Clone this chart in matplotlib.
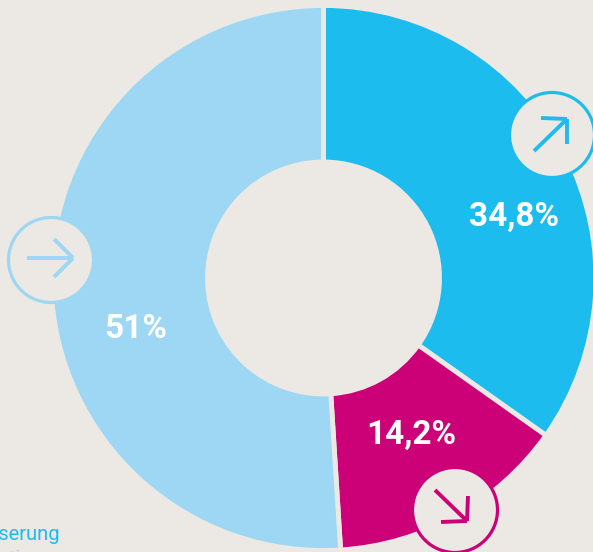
# -*- coding: utf-8 -*-
"""Donut chart with arrow badges"""

import matplotlib
matplotlib.use('Agg')
import matplotlib.pyplot as plt
from matplotlib.patches import Circle

BG = '#ece9e4'
W, H = 593, 552

# Clockwise from the top
shares = [34.8, 14.2, 51.0]
labels = ['34,8%', '14,2%', '51%']
colors = ['#1cbcee', '#cc0077', '#9dd7f3']

legend_texts = ['Verbesserung', 'Stagnation']


def y_(py):
    """Convert a pixel row of the picture to axes y"""
    return H - py


def badge(ax, cx, cy, color, segments):
    """ Draw a circle with an arrow inside"""
    ax.add_patch(Circle((cx, y_(cy)), 42.5, facecolor=BG, edgecolor=color,
                        lw=2.3, zorder=4))
    for (x0, y0), (x1, y1) in segments:
        ax.plot([x0, x1], [y_(y0), y_(y1)], color=color, lw=2.8,
                solid_capstyle='butt', zorder=5)


fig = plt.figure(figsize=(W / 100, H / 100), dpi=100, facecolor=BG)
ax = fig.add_axes([0, 0, 1, 1])
ax.set_facecolor(BG)

ax.pie(shares, colors=colors, startangle=90, counterclock=False,
       center=(323.5, y_(278)), radius=272.5,
       wedgeprops=dict(width=156.5, edgecolor=BG, linewidth=3.5))
ax.set_xlim(0, W)
ax.set_ylim(0, H)
ax.set_aspect('equal')
ax.axis('off')

# Arrow badges
badge(ax, 552, 135, colors[0], [((534, 151), (567, 119)),
                                ((541, 118), (567, 119)),
                                ((567, 119), (567, 144))])
badge(ax, 455, 510, colors[1], [((435, 490), (467, 521)),
                                ((468, 496), (467, 521)),
                                ((441, 522), (467, 521))])
badge(ax, 51, 260, colors[2], [((27, 258), (73, 258)),
                               ((54, 239), (73, 258)),
                               ((54, 277), (73, 258))])

# Value labels
font = dict(family='Roboto', weight='bold', fontsize=24, color='white',
            ha='center', va='center', zorder=6)
ax.text(514.5, y_(217), labels[0], **font)
ax.text(411, y_(435), labels[1], **font)
ax.text(136, y_(329), labels[2], **font)

# Legend, cut by the picture edge
ax.text(60, y_(540), legend_texts[0], family='Roboto', fontsize=14.5,
        color=colors[0], ha='right', va='baseline')
ax.text(-5, y_(565), legend_texts[1], family='Roboto', fontsize=14.5,
        color=colors[2], ha='center', va='baseline')

plt.savefig('out.png', dpi=100, facecolor=BG)
plt.close()
